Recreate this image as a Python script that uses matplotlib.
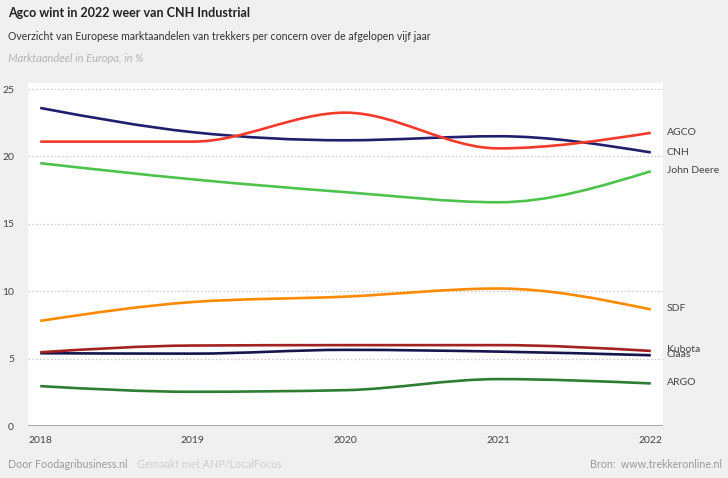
import numpy as np
import matplotlib
matplotlib.use('Agg')
import matplotlib.pyplot as plt
from matplotlib.path import Path
from matplotlib.patches import PathPatch

plt.rcParams['font.family'] = ['Lato', 'DejaVu Sans']

# data (marktaandeel in %)
years = [2018, 2019, 2020, 2021, 2022]
cnh = [23.6, 21.8, 21.2, 21.5, 20.3]
agco = [21.1, 21.1, 23.25, 20.6, 21.75]
john_deere = [19.5, 18.3, 17.35, 16.6, 18.9]
sdf = [7.8, 9.2, 9.6, 10.2, 8.65]
kubota = [5.47, 5.97, 6.0, 6.0, 5.57]
claas = [5.4, 5.37, 5.65, 5.52, 5.25]
argo = [2.96, 2.54, 2.66, 3.48, 3.16]

series = [
    ('ARGO', argo, '#2f7d32'),
    ('Claas', claas, '#16164d'),
    ('Kubota', kubota, '#a42121'),
    ('SDF', sdf, '#ff8a00'),
    ('John Deere', john_deere, '#4cc44c'),
    ('CNH', cnh, '#1f1f6d'),
    ('AGCO', agco, '#f53a2c'),
]
yticks = [0, 5, 10, 15, 20, 25]


def sign(v):
    return -1.0 if v < 0 else 1.0


def monotone_path(xs, ys):
    # bezier path like d3.curveMonotoneX
    xs = np.asarray(xs, float)
    ys = np.asarray(ys, float)
    n = len(xs)
    h = np.diff(xs)
    s = np.diff(ys) / h
    t = np.zeros(n)
    for i in range(1, n - 1):
        p = (s[i - 1] * h[i] + s[i] * h[i - 1]) / (h[i - 1] + h[i])
        t[i] = (sign(s[i - 1]) + sign(s[i])) * min(abs(s[i - 1]), abs(s[i]), 0.5 * abs(p))
    t[0] = (3 * s[0] - t[1]) / 2
    t[-1] = (3 * s[-1] - t[-2]) / 2
    verts = [(xs[0], ys[0])]
    codes = [Path.MOVETO]
    for i in range(n - 1):
        dx = h[i] / 3
        verts += [(xs[i] + dx, ys[i] + dx * t[i]),
                  (xs[i + 1] - dx, ys[i + 1] - dx * t[i + 1]),
                  (xs[i + 1], ys[i + 1])]
        codes += [Path.CURVE4] * 3
    return Path(verts, codes)


fig = plt.figure(figsize=(7.28, 4.78), dpi=100, facecolor='#f0f0f0')
ax = fig.add_axes([28 / 728, 1 - 426 / 478, 635 / 728, 343 / 478])
ax.set_facecolor('white')

for name, vals, col in series:
    ax.add_patch(PathPatch(monotone_path(years, vals), facecolor='none',
                           edgecolor=col, lw=1.9, capstyle='butt', zorder=3))

ax.set_xlim(2017.92, 2022.08)
ax.set_ylim(0, 25.45)
for yv in yticks[1:]:
    ax.axhline(yv, color='#c8c8c8', lw=0.9, ls=(0, (1.2, 1.8)), zorder=1)
ax.axhline(0, color='#999999', lw=1.2, zorder=2)

for sp in ax.spines.values():
    sp.set_visible(False)
ax.set_xticks(years)
ax.set_xticklabels([str(y) for y in years])
ax.set_yticks(yticks)
ax.tick_params(length=0, labelsize=7.5, labelcolor='#444444')
ax.tick_params(axis='y', pad=10)
ax.tick_params(axis='x', pad=7)

# labels at right side
label_y = {'AGCO': 21.75, 'CNH': 20.3, 'John Deere': 18.95, 'SDF': 8.7,
           'Kubota': 5.65, 'Claas': 5.3, 'ARGO': 3.2}
for name, vals, col in series:
    ax.text(1.006, label_y[name], name, transform=ax.get_yaxis_transform(),
            fontsize=7.5, color='#444444', va='center', ha='left', clip_on=False)

fig.text(8 / 728, 1 - 13 / 478, 'Agco wint in 2022 weer van CNH Industrial',
         fontsize=9, fontweight='bold', color='#222222', va='center')
fig.text(8 / 728, 1 - 36 / 478,
         'Overzicht van Europese marktaandelen van trekkers per concern over de afgelopen vijf jaar',
         fontsize=7.6, color='#333333', va='center')
fig.text(8 / 728, 1 - 59 / 478, 'Marktaandeel in Europa, in %',
         fontsize=8, color='#b5b5b5', style='italic', va='center')

fig.text(8 / 728, 1 - 465 / 478, 'Door Foodagribusiness.nl', fontsize=7.7,
         color='#9a9a9a', va='center')
fig.text(137 / 728, 1 - 465 / 478, 'Gemaakt met ANP/LocalFocus', fontsize=7.7,
         color='#cfcfcf', va='center')
fig.text(722 / 728, 1 - 465 / 478, 'Bron:  www.trekkeronline.nl', fontsize=7.7,
         color='#9a9a9a', va='center', ha='right')

fig.savefig('out.png', dpi=100, facecolor=fig.get_facecolor())
